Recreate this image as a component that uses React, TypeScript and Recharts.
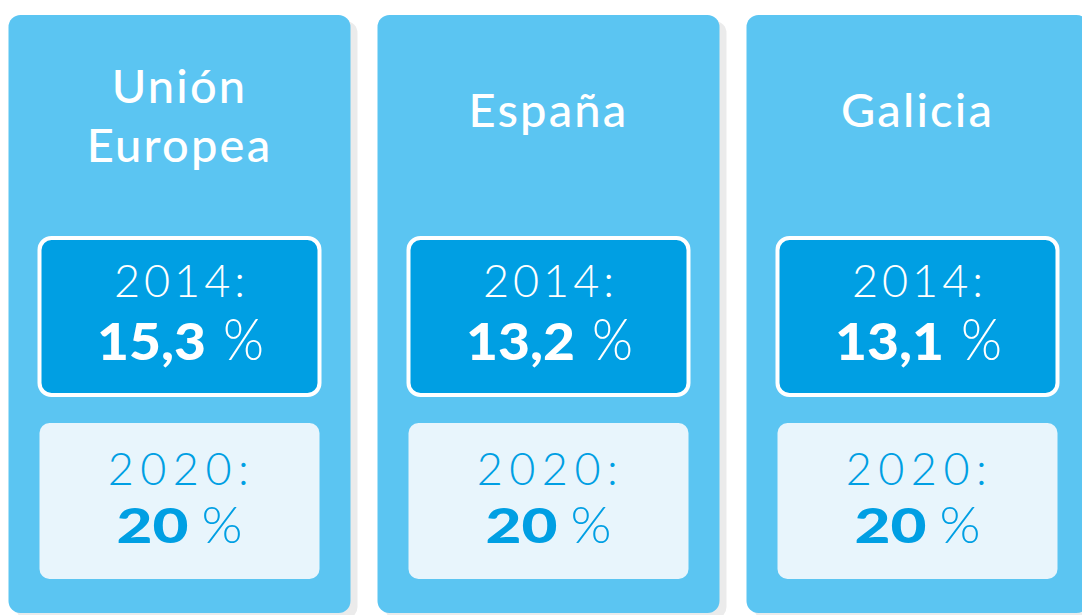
import React from 'react';
import { BarChart, Bar, XAxis, YAxis } from 'recharts';

// regions shown on each card
const regions = ['Unión Europea', 'España', 'Galicia'];
const titleLines = [['Unión', 'Europea'], ['España'], ['Galicia']];
// share of renewables (%), 2014 actual and 2020 target
const share2014 = [15.3, 13.2, 13.1];
const target2020 = [20, 20, 20];
const yearLabels = ['2014:', '2020:'];

const data = regions.map((region, i) => ({
  region,
  card: 1,
  lines: titleLines[i],
  v2014: share2014[i],
  v2020: target2020[i],
}));

const fmt = (v: number) => String(v).replace('.', ',');

const FONT = 'Lato, "Open Sans", sans-serif';

// wide heavy number + thin percent sign, centred as one group
function Value(props: { cx: number; y: number; value: number; color: string; size: number; digitW: number; pctSize: number; pctW: number; gap: number }) {
  const { cx, y, value, color, size, digitW, pctSize, pctW, gap } = props;
  const s = fmt(value);
  const numW = s.split('').reduce((w, c) => w + (c === ',' ? 13 : digitW), 0);
  const left = cx - (numW + gap + pctW) / 2;
  return (
    <g fill={color} fontFamily={FONT}>
      <text x={left} y={y} fontSize={size} fontWeight={900} textLength={numW} lengthAdjust="spacingAndGlyphs">
        {s}
      </text>
      <text x={left + numW + gap} y={y} fontSize={pctSize} fontWeight={300} textLength={pctW} lengthAdjust="spacingAndGlyphs">
        %
      </text>
    </g>
  );
}

function CardShape(props: any) {
  const { x, y, width, height, payload } = props;
  const cx = x + width / 2;
  const lines: string[] = payload.lines;
  const boxX = x + 31;
  const boxW = width - 62;
  return (
    <g>
      <rect x={x + 7} y={y + 6} width={width} height={height} rx={12} fill="#ebebeb" />
      <rect x={x} y={y} width={width} height={height} rx={12} fill="#5bc5f2" />
      {lines.map((t, i) => (
        <text
          key={t}
          x={cx}
          y={y + (lines.length === 2 ? 88 + i * 59 : 112)}
          textAnchor="middle"
          fill="#ffffff"
          fontFamily={FONT}
          fontSize={47}
          fontWeight={500}
          letterSpacing={2.2}
        >
          {t}
        </text>
      ))}
      <rect x={boxX} y={y + 223} width={boxW} height={157} rx={12} fill="#009fe3" stroke="#ffffff" strokeWidth={4} />
      <text x={cx + 2} y={y + 282} textAnchor="middle" fill="#ffffff" fontFamily={FONT} fontSize={45} fontWeight={300} letterSpacing={4}>
        {yearLabels[0]}
      </text>
      <Value cx={cx + 1} y={y + 345} value={payload.v2014} color="#ffffff" size={51} digitW={32} pctSize={58} pctW={41} gap={17} />
      <rect x={boxX} y={y + 408} width={boxW} height={156} rx={10} fill="#e8f5fc" />
      <text x={cx + 2} y={y + 470} textAnchor="middle" fill="#009fe3" fontFamily={FONT} fontSize={45} fontWeight={300} letterSpacing={6.5}>
        {yearLabels[1]}
      </text>
      <Value cx={cx} y={y + 528} value={payload.v2020} color="#009fe3" size={48} digitW={36} pctSize={51} pctW={41} gap={13} />
    </g>
  );
}

export default function App() {
  return (
    <div style={{ position: 'absolute', left: 0, top: 0, width: 1082, height: 615, overflow: 'hidden', background: '#fff' }}>
      <div style={{ position: 'absolute', left: -5, top: 0 }}>
        <BarChart width={1107} height={615} data={data} margin={{ top: 15, right: 0, bottom: 2, left: 0 }} barCategoryGap={13.5}>
          <XAxis dataKey="region" hide />
          <YAxis hide domain={[0, 1]} />
          <Bar dataKey="card" isAnimationActive={false} shape={CardShape} />
        </BarChart>
      </div>
    </div>
  );
}
